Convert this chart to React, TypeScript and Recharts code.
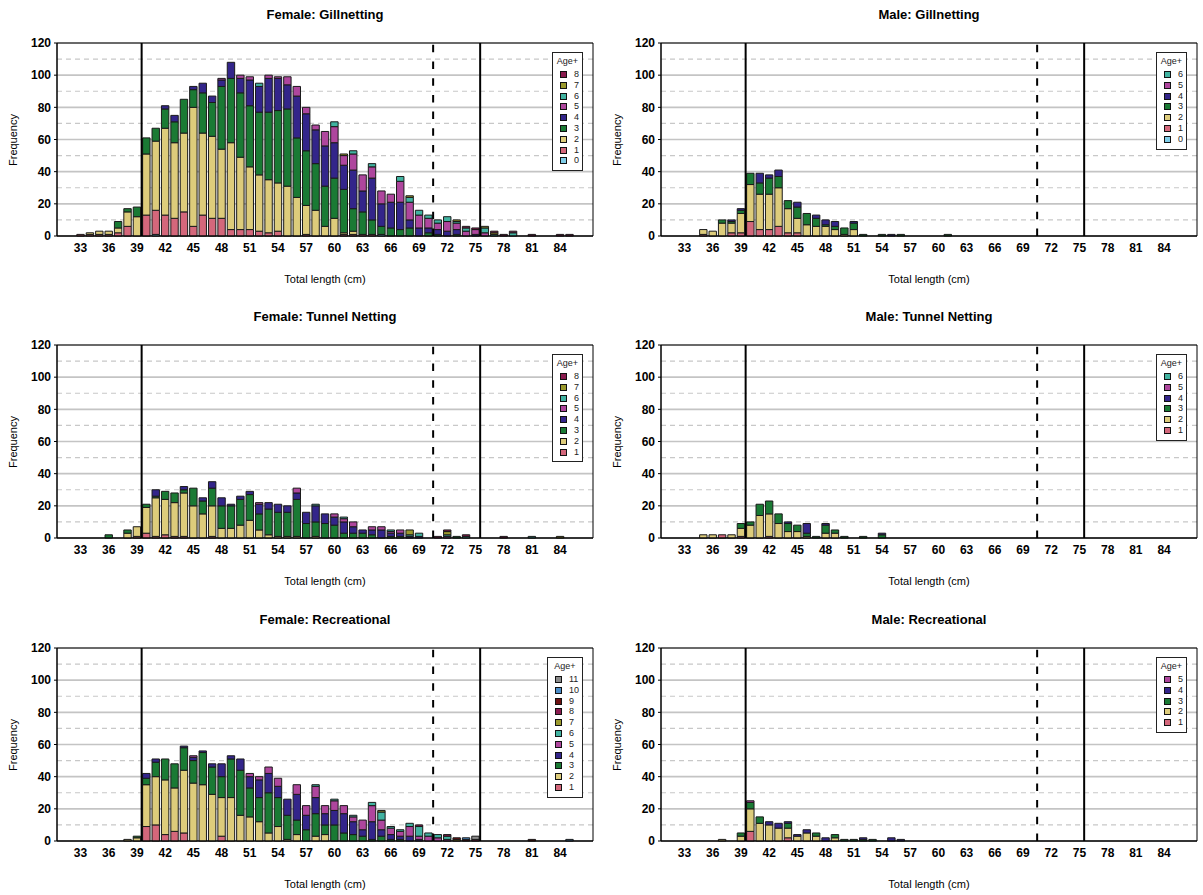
import React from 'react'
import { BarChart, Bar, XAxis, YAxis, CartesianGrid, ReferenceLine, ReferenceArea } from 'recharts'

// fill colour per age class (index = age)
const AGE_COLORS = [
  '#7fcde8', '#d4677b', '#ddcc7b', '#1a7a34', '#33258a', '#ae469d',
  '#41b3a1', '#9b9a2d', '#8a1b4f', '#6d1111', '#4b8dc9', '#8b8b8b',
]

const xTicks = [33, 36, 39, 42, 45, 48, 51, 54, 57, 60, 63, 66, 69, 72, 75, 78, 81, 84]
const yTicks = [0, 20, 40, 60, 80, 100, 120]
const dashedY = [10, 30, 50, 70, 90, 110]
const xDomain: [number, number] = [30.5, 87.5]
// slot limits drawn as vertical lines
const minLimit = 39.5
const slotLimit = 70.5
const maxLimit = 75.5

// rows: [length, count for each age listed in the matching ages array]
const femaleGillAges = [0, 1, 2, 3, 4, 5, 6, 7, 8]
const femaleGill = [
  [33, 0, 1], [34, 0, 1, 1], [35, 0, 1, 2], [36, 0, 1, 2], [37, 0, 2, 3, 4],
  [38, 0, 6, 9, 2], [39, 0, 0, 12, 6], [40, 0, 13, 38, 10], [41, 1, 15, 43, 8],
  [42, 0, 13, 54, 12, 2], [43, 0, 11, 47, 13, 4], [44, 0, 15, 49, 21], [45, 0, 6, 74, 11, 2],
  [46, 0, 13, 51, 25, 6], [47, 0, 11, 51, 21, 4], [48, 0, 11, 43, 39, 4, 1], [49, 0, 4, 54, 40, 10],
  [50, 0, 4, 45, 40, 9, 2], [51, 0, 4, 39, 38, 16, 2], [52, 0, 3, 35, 39, 16, 0, 2],
  [53, 0, 2, 33, 42, 21, 2], [54, 0, 3, 30, 45, 20, 1], [55, 0, 0, 31, 48, 15, 5],
  [56, 0, 0, 24, 37, 26, 6], [57, 0, 1, 18, 34, 23, 4], [58, 0, 0, 16, 29, 21, 3],
  [59, 0, 0, 6, 25, 25, 9], [60, 0, 0, 11, 25, 22, 10, 3], [61, 0, 1, 1, 27, 15, 6, 0, 1],
  [62, 0, 1, 2, 14, 24, 10, 2], [63, 0, 1, 0, 14, 13, 10], [64, 0, 1, 0, 9, 26, 7, 2],
  [65, 1, 0, 0, 5, 14, 8], [66, 0, 0, 0, 5, 16, 5], [67, 0, 0, 0, 4, 17, 13, 3],
  [68, 0, 0, 0, 5, 5, 11, 3, 1], [69, 0, 0, 0, 0, 5, 8, 3], [70, 0, 0, 0, 2, 3, 6, 2],
  [71, 0, 0, 0, 1, 3, 4, 2], [72, 0, 0, 0, 0, 3, 6, 3], [73, 0, 0, 0, 1, 3, 4, 1, 1],
  [74, 0, 0, 0, 0, 0, 3, 2, 0, 1], [75, 0, 0, 0, 0, 1, 3, 0, 0, 1], [76, 0, 0, 0, 0, 0, 2, 3, 1],
  [77, 0, 0, 0, 0, 0, 0, 1, 1, 1], [78, 0, 0, 0, 0, 0, 0, 0, 0, 1], [79, 0, 0, 0, 0, 0, 0, 2, 0, 1],
  [81, 0, 0, 0, 0, 0, 0, 0, 0, 1], [84, 0, 0, 0, 0, 0, 0, 0, 0, 1], [85, 0, 0, 0, 0, 0, 0, 0, 0, 1],
]

const maleGillAges = [0, 1, 2, 3, 4, 5, 6]
const maleGill = [
  [35, 0, 1, 3], [36, 0, 0, 3], [37, 0, 0, 8, 2], [38, 0, 2, 6, 1, 1], [39, 0, 2, 12, 2, 1],
  [40, 0, 9, 23, 7], [41, 0, 4, 22, 7, 6], [42, 0, 4, 22, 10, 2], [43, 0, 6, 24, 7, 4],
  [44, 0, 2, 15, 5], [45, 0, 2, 9, 7, 3], [46, 0, 0, 7, 7], [47, 0, 0, 6, 5, 2],
  [48, 0, 0, 6, 1, 3], [49, 0, 0, 4, 2, 3], [50, 0, 0, 1, 4], [51, 0, 0, 4, 4, 1],
  [52, 0, 0, 0, 1], [54, 0, 0, 0, 1], [55, 0, 0, 0, 0, 1], [56, 0, 0, 0, 1], [61, 0, 0, 0, 1],
]

const femaleTunnelAges = [1, 2, 3, 4, 5, 6, 7, 8]
const femaleTunnel = [
  [36, 0, 0, 2], [38, 0, 3, 2], [39, 1, 6], [40, 3, 16, 2], [41, 1, 24, 1, 4],
  [42, 2, 22, 5], [43, 1, 21, 6], [44, 1, 27, 2, 2], [45, 0, 20, 11], [46, 0, 15, 8, 2],
  [47, 1, 19, 11, 4], [48, 0, 6, 14, 5], [49, 0, 6, 14, 1], [50, 0, 8, 16, 2], [51, 0, 11, 16, 2],
  [52, 0, 5, 10, 6, 1], [53, 0, 2, 16, 4], [54, 0, 1, 15, 5], [55, 0, 1, 15, 4], [56, 0, 1, 23, 4, 3],
  [57, 0, 0, 9, 7], [58, 0, 1, 9, 10, 0, 1], [59, 0, 0, 9, 6], [60, 0, 0, 8, 5, 2],
  [61, 0, 0, 3, 7, 2, 1], [62, 0, 0, 3, 4, 3], [63, 0, 0, 3, 2], [64, 0, 0, 2, 3, 2],
  [65, 0, 0, 0, 5, 2], [66, 0, 0, 1, 2, 1, 1], [67, 0, 0, 1, 2, 2], [68, 0, 0, 0, 1, 0, 1, 3],
  [69, 0, 0, 0, 1, 0, 2], [71, 0, 0, 0, 0, 0, 0, 0, 1], [72, 0, 0, 0, 0, 1, 1, 2, 1],
  [73, 0, 0, 1], [74, 0, 0, 0, 0, 0, 1, 0, 1], [78, 0, 0, 0, 0, 0, 0, 0, 1],
  [81, 0, 0, 0, 0, 0, 1], [84, 0, 0, 0, 0, 0, 0, 1],
]

const maleTunnelAges = [1, 2, 3, 4, 5, 6]
const maleTunnel = [
  [35, 0, 2], [36, 0, 2], [37, 2], [38, 0, 2], [39, 1, 5, 3], [40, 0, 8, 2], [41, 0, 14, 7],
  [42, 1, 14, 8], [43, 0, 9, 6], [44, 0, 4, 5, 1], [45, 0, 4, 4], [46, 0, 1, 2, 6],
  [47, 0, 0, 1], [48, 0, 3, 5, 1], [49, 0, 3, 2], [50, 0, 0, 1], [52, 0, 0, 1], [54, 0, 0, 2, 1],
]

const femaleRecAges = [1, 2, 3, 4, 5, 6, 7, 8, 9, 10, 11]
const femaleRec = [
  [38, 0, 1], [39, 0, 2, 1], [40, 9, 26, 4, 3], [41, 10, 30, 9, 2], [42, 4, 34, 13],
  [43, 6, 27, 15], [44, 5, 39, 14, 1], [45, 0, 36, 14, 2, 1], [46, 0, 35, 20, 1], [47, 0, 29, 17, 2],
  [48, 3, 24, 13, 8], [49, 0, 27, 24, 2], [50, 0, 16, 28, 7], [51, 0, 15, 18, 7, 2],
  [52, 0, 12, 15, 11, 2], [53, 0, 5, 25, 12, 4], [54, 0, 9, 18, 7, 5], [55, 0, 1, 15, 10],
  [56, 0, 4, 9, 16, 6], [57, 0, 0, 7, 9, 6], [58, 0, 3, 14, 10, 7, 1], [59, 0, 4, 6, 7, 5],
  [60, 0, 0, 10, 9, 6, 1], [61, 0, 0, 5, 12, 5], [62, 0, 0, 4, 8, 3, 1], [63, 0, 0, 3, 4, 6],
  [64, 0, 0, 1, 11, 10, 2], [65, 0, 0, 3, 4, 6, 5, 1], [66, 0, 0, 1, 3, 4, 1], [67, 0, 0, 1, 2, 3, 1],
  [68, 0, 0, 0, 3, 6, 2], [69, 0, 0, 0, 1, 2, 6, 0, 1], [70, 0, 0, 0, 0, 3, 2], [71, 0, 0, 0, 0, 2, 2],
  [72, 0, 0, 0, 0, 1, 2, 0, 1], [73, 0, 0, 0, 0, 0, 0, 1, 0, 1], [74, 0, 0, 0, 0, 0, 0, 0, 0, 1, 1],
  [75, 0, 0, 0, 0, 0, 0, 0, 1, 0, 0, 2], [81, 0, 0, 0, 0, 0, 0, 0, 0, 1], [85, 0, 0, 0, 0, 0, 0, 0, 0, 0, 1],
]

const maleRecAges = [1, 2, 3, 4, 5]
const maleRec = [
  [37, 0, 1], [39, 0, 3, 2], [40, 6, 14, 4, 0, 1], [41, 0, 11, 4], [42, 0, 10, 0, 2],
  [43, 0, 8, 0, 3], [44, 2, 6, 3, 1], [45, 0, 3, 0, 1], [46, 0, 5, 0, 2], [47, 0, 3, 2],
  [48, 0, 0, 0, 2], [49, 0, 2, 2], [50, 0, 0, 1], [51, 0, 0, 1], [52, 0, 0, 1, 1],
  [53, 0, 0, 1], [55, 0, 0, 0, 2], [56, 0, 0, 0, 1],
]

const PW = 605
const PH = 302
const M = { top: 43, right: 12, bottom: 36, left: 7 }
const PLOT_W = PW - M.left - 50 - M.right

type PanelProps = { title: string; ages: number[]; rows: number[][]; left: number; top: number }

function AgeLegend({ ages, x, y }: { ages: number[]; x: number; y: number }) {
  const order = [...ages].reverse()
  const wide = ages.some((a) => a >= 10)
  const w = wide ? 36 : 31
  return (
    <div
      style={{
        position: 'absolute', left: x - w, top: y, width: w, height: 22 + order.length * 10.8,
        border: '1px solid #222', background: '#fff', boxSizing: 'border-box', fontSize: 9, color: '#222',
      }}
    >
      <div style={{ position: 'absolute', left: 0, width: '100%', top: 3, textAlign: 'center', lineHeight: '10px' }}>Age+</div>
      {order.map((a, i) => (
        <div key={a} style={{ position: 'absolute', left: 0, top: 16 + i * 10.8, height: 10, width: '100%' }}>
          <div
            style={{
              position: 'absolute', left: 7, top: 2, width: 7, height: 7, boxSizing: 'border-box',
              background: AGE_COLORS[a], border: '1px solid #111',
            }}
          />
          <div style={{ position: 'absolute', left: 21, top: 0, lineHeight: '11px' }}>{a}</div>
        </div>
      ))}
    </div>
  )
}

function Panel({ title, ages, rows, left, top }: PanelProps) {
  const data = rows.map((r) => {
    const o: Record<string, number> = { len: r[0] }
    ages.forEach((a, i) => {
      o['a' + a] = r[i + 1] ?? 0
    })
    return o
  })
  const plotLeft = M.left + 50
  return (
    <div style={{ position: 'absolute', left, top, width: PW, height: PH }}>
      <BarChart width={PW} height={PH} data={data} margin={M}>
        <CartesianGrid vertical={false} stroke="#c4c4c4" strokeWidth={1.6} />
        <CartesianGrid
          vertical={false}
          horizontalValues={dashedY}
          syncWithTicks
          stroke="#c8c8c8"
          strokeWidth={1.2}
          strokeDasharray="5 4"
        />
        <XAxis
          dataKey="len"
          type="number"
          domain={xDomain}
          ticks={xTicks}
          interval={0}
          tickLine={false}
          tickSize={0}
          tickMargin={7}
          height={30}
          axisLine={{ stroke: '#000' }}
          tick={{ fill: '#000', fontSize: 12, fontWeight: 'bold' }}
        />
        <YAxis
          domain={[0, 120]}
          ticks={yTicks}
          interval={0}
          width={50}
          tickSize={3}
          tickMargin={3}
          tickLine={{ stroke: '#000' }}
          axisLine={{ stroke: '#000' }}
          tick={{ fill: '#000', fontSize: 12, fontWeight: 'bold' }}
        />
        {ages.map((a) => (
          <Bar
            key={a}
            dataKey={'a' + a}
            stackId="age"
            fill={AGE_COLORS[a]}
            stroke="#1a1a1a"
            strokeWidth={1}
            barSize={7.4}
            isAnimationActive={false}
          />
        ))}
        <ReferenceLine x={minLimit} stroke="#000" strokeWidth={2} />
        <ReferenceLine x={slotLimit} stroke="#000" strokeWidth={2} strokeDasharray="7.5 9.2" />
        <ReferenceLine x={maxLimit} stroke="#000" strokeWidth={2} />
        <ReferenceArea x1={xDomain[0]} x2={xDomain[1]} y1={0} y2={120} fill="none" fillOpacity={0} stroke="#000" strokeWidth={1} />
      </BarChart>
      <div
        style={{
          position: 'absolute', left: plotLeft, width: PLOT_W, top: 7, lineHeight: '16px',
          textAlign: 'center', fontWeight: 'bold', fontSize: 13,
        }}
      >
        {title}
      </div>
      <div
        style={{
          position: 'absolute', left: plotLeft, width: PLOT_W, top: 272, lineHeight: '14px',
          textAlign: 'center', fontSize: 11,
        }}
      >
        Total length (cm)
      </div>
      <div
        style={{
          position: 'absolute', left: 13 - 50, top: 139.5 - 7, width: 100, lineHeight: '14px',
          textAlign: 'center', fontSize: 11, transform: 'rotate(-90deg)',
        }}
      >
        Frequency
      </div>
      <AgeLegend ages={ages} x={plotLeft + PLOT_W - 10} y={M.top + 9} />
    </div>
  )
}

export default function App() {
  return (
    <div
      style={{
        position: 'absolute', left: 0, top: 0, width: 1203, height: 895, background: '#fff',
        fontFamily: '"Liberation Sans", Arial, sans-serif', color: '#000', overflow: 'hidden',
      }}
    >
      <Panel title="Female: Gillnetting" ages={femaleGillAges} rows={femaleGill} left={0} top={0} />
      <Panel title="Male: Gillnetting" ages={maleGillAges} rows={maleGill} left={604} top={0} />
      <Panel title="Female: Tunnel Netting" ages={femaleTunnelAges} rows={femaleTunnel} left={0} top={302} />
      <Panel title="Male: Tunnel Netting" ages={maleTunnelAges} rows={maleTunnel} left={604} top={302} />
      <Panel title="Female: Recreational" ages={femaleRecAges} rows={femaleRec} left={0} top={605} />
      <Panel title="Male: Recreational" ages={maleRecAges} rows={maleRec} left={604} top={605} />
    </div>
  )
}
